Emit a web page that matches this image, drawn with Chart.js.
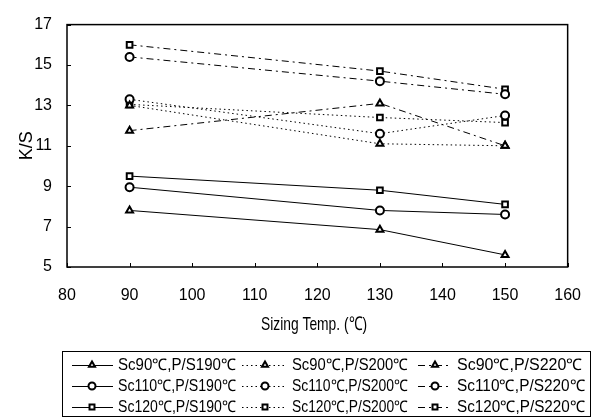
<!DOCTYPE html>
<html>
<head>
<meta charset="utf-8">
<script src="https://cdn.jsdelivr.net/npm/chart.js@4"></script>
<style>
  html, body { margin: 0; padding: 0; background: #fff; }
  #wrap { width: 600px; height: 418px; }
</style>
</head>
<body>
<div id="wrap"><canvas id="grafica" width="600" height="418"></canvas></div>
<script>
// datos
const sizingTemps = [90, 130, 150];
const xTicks = [80, 90, 100, 110, 120, 130, 140, 150, 160];
const yTicks = [5, 7, 9, 11, 13, 15, 17];

const sc90ps190 = [7.8, 6.85, 5.6];
const sc90ps200 = [13.0, 11.1, 11.0];
const sc90ps220 = [11.75, 13.1, 11.0];
const sc110ps190 = [8.95, 7.8, 7.6];
const sc110ps200 = [13.3, 11.6, 12.5];
const sc110ps220 = [15.4, 14.2, 13.55];
const sc120ps190 = [9.5, 8.8, 8.1];
const sc120ps200 = [13.05, 12.4, 12.15];
const sc120ps220 = [16.0, 14.7, 13.8];

const FONT = "'Liberation Sans', Arial, sans-serif";
const dashes = { ps190: [], ps200: [1.5, 3], ps220: [7, 4, 2, 4] };

function serie(label, values, marker, dash) {
    return {
        label: label,
        data: values.map((v, i) => ({ x: sizingTemps[i], y: v })),
        borderColor: "#000",
        borderWidth: 1,
        borderDash: dash,
        pointStyle: marker,
        pointRadius: 4,
        pointBorderWidth: 2,
        pointBackgroundColor: "#fff",
        pointBorderColor: "#000",
        fill: false,
        tension: 0,
    };
}

// orden fila por fila como en la leyenda
const series = [
    serie("Sc90\u2103,P/S190\u2103", sc90ps190, "triangle", dashes.ps190),
    serie("Sc90\u2103,P/S200\u2103", sc90ps200, "triangle", dashes.ps200),
    serie("Sc90\u2103,P/S220\u2103", sc90ps220, "triangle", dashes.ps220),
    serie("Sc110\u2103,P/S190\u2103", sc110ps190, "circle", dashes.ps190),
    serie("Sc110\u2103,P/S200\u2103", sc110ps200, "circle", dashes.ps200),
    serie("Sc110\u2103,P/S220\u2103", sc110ps220, "circle", dashes.ps220),
    serie("Sc120\u2103,P/S190\u2103", sc120ps190, "rect", dashes.ps190),
    serie("Sc120\u2103,P/S200\u2103", sc120ps200, "rect", dashes.ps200),
    serie("Sc120\u2103,P/S220\u2103", sc120ps220, "rect", dashes.ps220),
];

// marco, marcas interiores, título del eje x y leyenda en caja
const marcoYLeyenda = {
    id: "marcoYLeyenda",
    afterDraw(chart) {
        const ctx = chart.ctx;
        const a = chart.chartArea;
        const sx = chart.scales.x, sy = chart.scales.y;
        ctx.save();
        ctx.strokeStyle = "#000";
        ctx.lineWidth = 1.5;
        ctx.setLineDash([]);
        ctx.strokeRect(a.left, a.top, a.right - a.left, a.bottom - a.top);
        ctx.lineWidth = 1;
        ctx.beginPath();
        xTicks.forEach(t => {
            const px = Math.round(sx.getPixelForValue(t)) + 0.5;
            ctx.moveTo(px, a.bottom); ctx.lineTo(px, a.bottom - 4);
        });
        yTicks.forEach(t => {
            const py = Math.round(sy.getPixelForValue(t)) + 0.5;
            ctx.moveTo(a.left, py); ctx.lineTo(a.left + 4, py);
        });
        ctx.stroke();

        // título del eje x (más estrecho, como en la figura)
        ctx.fillStyle = "#000";
        ctx.font = "19px " + FONT;
        ctx.textAlign = "center";
        ctx.textBaseline = "middle";
        ctx.fillText("Sizing Temp. (\u2103)", 314, 325, 106);

        // leyenda
        const box = { x: 62, y: 351, w: 528, h: 65 };
        ctx.lineWidth = 1;
        ctx.strokeRect(box.x + 0.5, box.y + 0.5, box.w, box.h);
        const cols = [
            { l0: 72, l1: 113, m: 92, t: 118, w: 118 },
            { l0: 242, l1: 287, m: 265, t: 292, w: 116 },
            { l0: 418, l1: 451, m: 435, t: 457, w: 128 },
        ];
        const rows = [365, 386, 407];
        ctx.font = "16px " + FONT;
        ctx.textAlign = "left";
        chart.data.datasets.forEach((ds, i) => {
            const c = cols[i % 3], y = rows[Math.floor(i / 3)];
            ctx.lineWidth = 1;
            ctx.setLineDash(ds.borderDash);
            ctx.beginPath();
            ctx.moveTo(c.l0, y + 0.5); ctx.lineTo(c.l1, y + 0.5);
            ctx.stroke();
            ctx.setLineDash([]);
            ctx.lineWidth = 2;
            ctx.fillStyle = "#fff";
            Chart.helpers.drawPoint(ctx, { pointStyle: ds.pointStyle, radius: 3.5, rotation: 0, borderWidth: 2 }, c.m, y);
            ctx.fillStyle = "#000";
            ctx.fillText(ds.label, c.t, y + 1, c.w);
        });
        ctx.restore();
    },
};

const ctxGrafica = document.getElementById("grafica").getContext("2d");
new Chart(ctxGrafica, {
    type: "line",
    data: { datasets: series },
    options: {
        responsive: false,
        animation: false,
        layout: { padding: { left: 0, top: 15, right: 17, bottom: 81 } },
        plugins: { legend: { display: false }, tooltip: { enabled: false } },
        scales: {
            x: {
                type: "linear",
                min: 80, max: 160,
                afterBuildTicks: s => { s.ticks = xTicks.map(v => ({ value: v })); },
                afterFit: s => { s.height = 70; },
                grid: { display: false, drawTicks: false },
                border: { display: false },
                ticks: { padding: 19, color: "#000", font: { family: FONT, size: 16 } },
            },
            y: {
                min: 5, max: 17,
                afterBuildTicks: s => { s.ticks = yTicks.map(v => ({ value: v })); },
                afterFit: s => { s.width = 67; },
                grid: { display: false, drawTicks: false },
                border: { display: false },
                ticks: { padding: 15, color: "#000", font: { family: FONT, size: 16 } },
                title: {
                    display: true, text: "K/S", color: "#000",
                    font: { family: FONT, size: 18 }, padding: { top: 16, bottom: 0 },
                },
            },
        },
    },
    plugins: [marcoYLeyenda],
});
</script>
</body>
</html>
